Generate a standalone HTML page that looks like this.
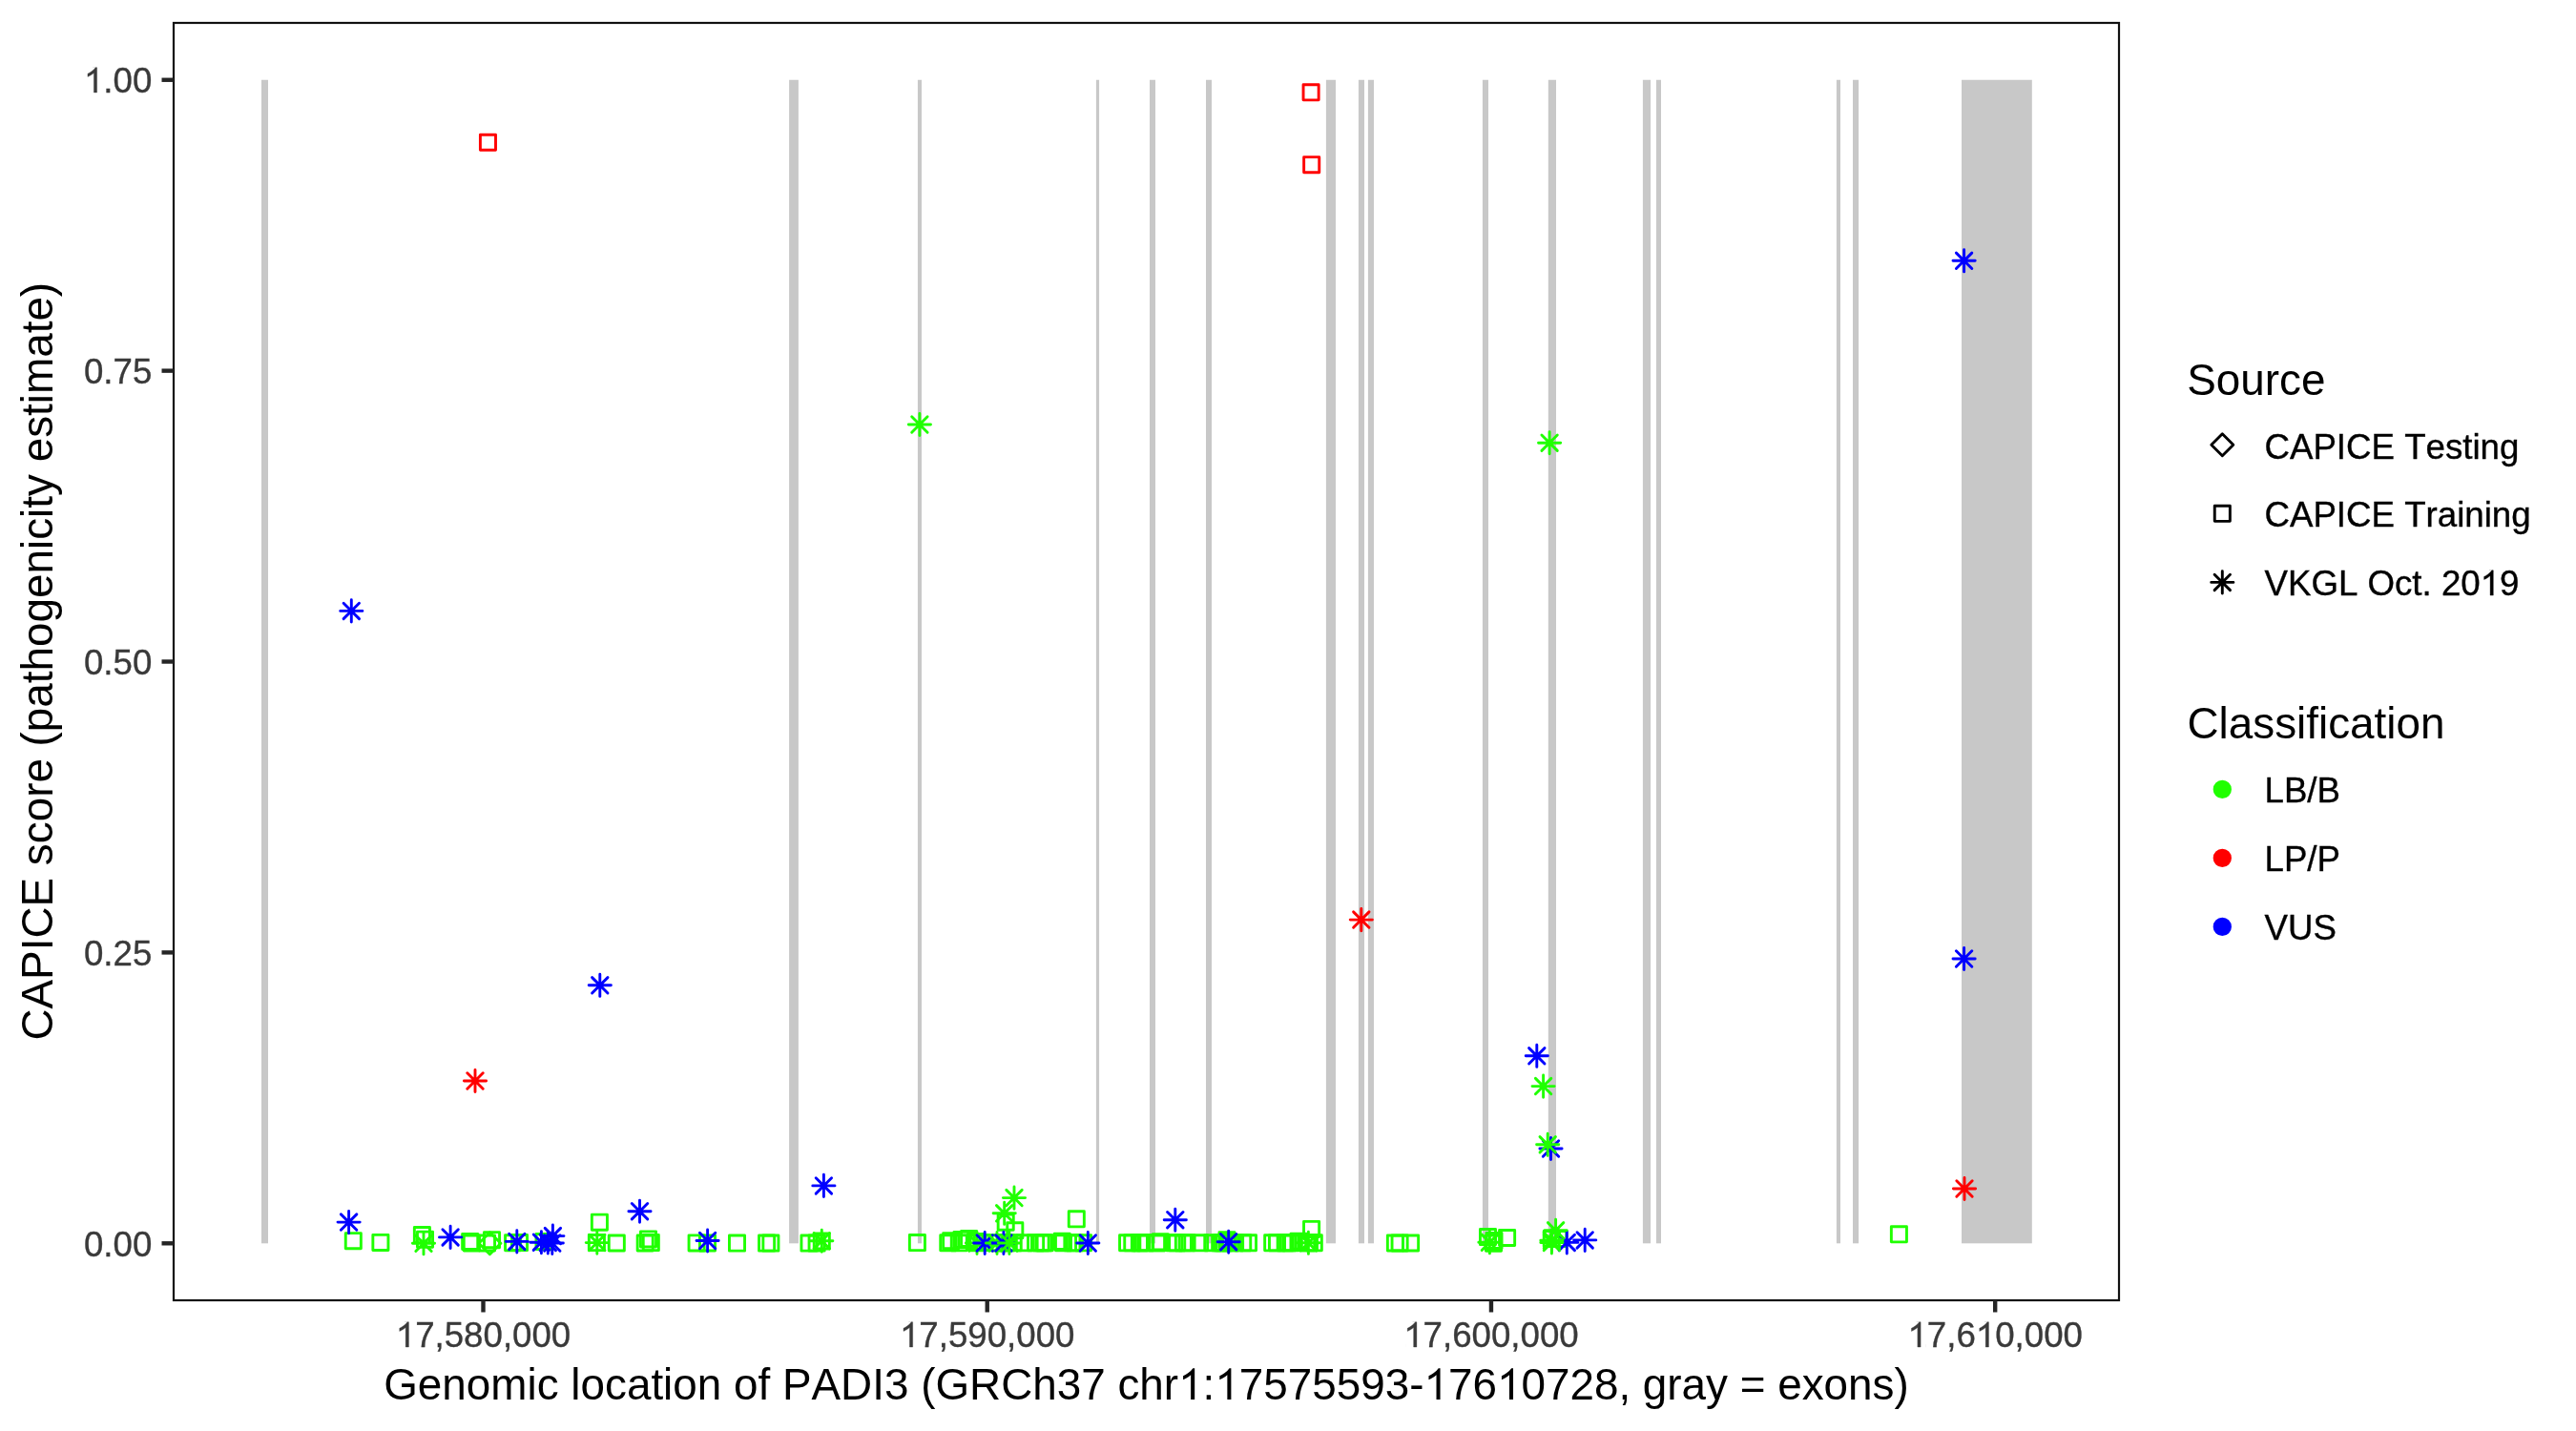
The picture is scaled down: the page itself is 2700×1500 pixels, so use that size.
<!DOCTYPE html><html><head><meta charset="utf-8"><style>html,body{margin:0;padding:0;background:#fff;overflow:hidden}svg{display:block;font-kerning:none;will-change:transform}</style></head><body>
<svg width="2700" height="1500" viewBox="0 0 2700 1500" font-family="'Liberation Sans', sans-serif">
<rect x="0" y="0" width="2700" height="1500" fill="#FFFFFF"/>
<g fill="#C8C8C8">
<rect x="274" y="83.75" width="7.00" height="1219.55"/>
<rect x="827.1" y="83.75" width="9.80" height="1219.55"/>
<rect x="961.9" y="83.75" width="4.10" height="1219.55"/>
<rect x="1148.9" y="83.75" width="3.20" height="1219.55"/>
<rect x="1205" y="83.75" width="6.00" height="1219.55"/>
<rect x="1264" y="83.75" width="6.00" height="1219.55"/>
<rect x="1389.9" y="83.75" width="10.10" height="1219.55"/>
<rect x="1423.9" y="83.75" width="6.10" height="1219.55"/>
<rect x="1433.9" y="83.75" width="6.10" height="1219.55"/>
<rect x="1553.9" y="83.75" width="6.10" height="1219.55"/>
<rect x="1622.8" y="83.75" width="8.20" height="1219.55"/>
<rect x="1721.9" y="83.75" width="8.20" height="1219.55"/>
<rect x="1735.9" y="83.75" width="5.10" height="1219.55"/>
<rect x="1924.9" y="83.75" width="4.10" height="1219.55"/>
<rect x="1942" y="83.75" width="6.10" height="1219.55"/>
<rect x="2056" y="83.75" width="73.80" height="1219.55"/>
</g>
<g fill="none" stroke-width="2.9" stroke-linecap="round" stroke-linejoin="round">
<rect x="362.25" y="1292.65" width="16.10" height="16.10" stroke="#20FF00"/>
<rect x="390.85" y="1294.35" width="16.10" height="16.10" stroke="#20FF00"/>
<rect x="434.35" y="1286.55" width="16.10" height="16.10" stroke="#20FF00"/>
<rect x="437.45" y="1291.15" width="16.10" height="16.10" stroke="#20FF00"/>
<rect x="484.65" y="1293.35" width="16.10" height="16.10" stroke="#20FF00"/>
<rect x="486.25" y="1294.95" width="16.10" height="16.10" stroke="#20FF00"/>
<rect x="502.45" y="1294.95" width="16.10" height="16.10" stroke="#20FF00"/>
<rect x="507.45" y="1291.65" width="16.10" height="16.10" stroke="#20FF00"/>
<rect x="529.55" y="1294.75" width="16.10" height="16.10" stroke="#20FF00"/>
<rect x="536.45" y="1294.55" width="16.10" height="16.10" stroke="#20FF00"/>
<rect x="561.95" y="1293.45" width="16.10" height="16.10" stroke="#20FF00"/>
<rect x="617.35" y="1294.55" width="16.10" height="16.10" stroke="#20FF00"/>
<rect x="620.35" y="1273.15" width="16.10" height="16.10" stroke="#20FF00"/>
<rect x="638.25" y="1294.95" width="16.10" height="16.10" stroke="#20FF00"/>
<rect x="668.15" y="1294.95" width="16.10" height="16.10" stroke="#20FF00"/>
<rect x="671.45" y="1290.85" width="16.10" height="16.10" stroke="#20FF00"/>
<rect x="674.25" y="1294.55" width="16.10" height="16.10" stroke="#20FF00"/>
<rect x="722.05" y="1294.85" width="16.10" height="16.10" stroke="#20FF00"/>
<rect x="733.45" y="1294.95" width="16.10" height="16.10" stroke="#20FF00"/>
<rect x="764.45" y="1295.05" width="16.10" height="16.10" stroke="#20FF00"/>
<rect x="795.55" y="1295.05" width="16.10" height="16.10" stroke="#20FF00"/>
<rect x="799.85" y="1295.05" width="16.10" height="16.10" stroke="#20FF00"/>
<rect x="839.95" y="1295.05" width="16.10" height="16.10" stroke="#20FF00"/>
<rect x="848.05" y="1295.05" width="16.10" height="16.10" stroke="#20FF00"/>
<rect x="853.25" y="1292.95" width="16.10" height="16.10" stroke="#20FF00"/>
<rect x="953.35" y="1294.55" width="16.10" height="16.10" stroke="#20FF00"/>
<rect x="985.75" y="1294.75" width="16.10" height="16.10" stroke="#20FF00"/>
<rect x="988.65" y="1292.65" width="16.10" height="16.10" stroke="#20FF00"/>
<rect x="997.25" y="1294.75" width="16.10" height="16.10" stroke="#20FF00"/>
<rect x="999.95" y="1291.35" width="16.10" height="16.10" stroke="#20FF00"/>
<rect x="1007.55" y="1290.45" width="16.10" height="16.10" stroke="#20FF00"/>
<rect x="1017.05" y="1294.75" width="16.10" height="16.10" stroke="#20FF00"/>
<rect x="1037.05" y="1294.75" width="16.10" height="16.10" stroke="#20FF00"/>
<rect x="1039.65" y="1294.75" width="16.10" height="16.10" stroke="#20FF00"/>
<rect x="1046.85" y="1294.75" width="16.10" height="16.10" stroke="#20FF00"/>
<rect x="1054.15" y="1294.75" width="16.10" height="16.10" stroke="#20FF00"/>
<rect x="1065.35" y="1294.75" width="16.10" height="16.10" stroke="#20FF00"/>
<rect x="1077.55" y="1294.75" width="16.10" height="16.10" stroke="#20FF00"/>
<rect x="1083.05" y="1294.75" width="16.10" height="16.10" stroke="#20FF00"/>
<rect x="1085.85" y="1294.75" width="16.10" height="16.10" stroke="#20FF00"/>
<rect x="1087.15" y="1294.75" width="16.10" height="16.10" stroke="#20FF00"/>
<rect x="1105.15" y="1293.25" width="16.10" height="16.10" stroke="#20FF00"/>
<rect x="1106.45" y="1294.75" width="16.10" height="16.10" stroke="#20FF00"/>
<rect x="1115.85" y="1294.75" width="16.10" height="16.10" stroke="#20FF00"/>
<rect x="1118.45" y="1294.75" width="16.10" height="16.10" stroke="#20FF00"/>
<rect x="1127.55" y="1294.75" width="16.10" height="16.10" stroke="#20FF00"/>
<rect x="1173.55" y="1294.75" width="16.10" height="16.10" stroke="#20FF00"/>
<rect x="1178.75" y="1294.75" width="16.10" height="16.10" stroke="#20FF00"/>
<rect x="1186.35" y="1294.75" width="16.10" height="16.10" stroke="#20FF00"/>
<rect x="1188.35" y="1294.75" width="16.10" height="16.10" stroke="#20FF00"/>
<rect x="1192.55" y="1294.75" width="16.10" height="16.10" stroke="#20FF00"/>
<rect x="1204.75" y="1294.75" width="16.10" height="16.10" stroke="#20FF00"/>
<rect x="1204.75" y="1294.75" width="16.10" height="16.10" stroke="#20FF00"/>
<rect x="1208.25" y="1293.75" width="16.10" height="16.10" stroke="#20FF00"/>
<rect x="1222.75" y="1294.75" width="16.10" height="16.10" stroke="#20FF00"/>
<rect x="1225.65" y="1294.75" width="16.10" height="16.10" stroke="#20FF00"/>
<rect x="1232.35" y="1294.75" width="16.10" height="16.10" stroke="#20FF00"/>
<rect x="1236.05" y="1294.75" width="16.10" height="16.10" stroke="#20FF00"/>
<rect x="1249.55" y="1294.75" width="16.10" height="16.10" stroke="#20FF00"/>
<rect x="1262.75" y="1294.75" width="16.10" height="16.10" stroke="#20FF00"/>
<rect x="1270.65" y="1294.75" width="16.10" height="16.10" stroke="#20FF00"/>
<rect x="1272.95" y="1294.75" width="16.10" height="16.10" stroke="#20FF00"/>
<rect x="1274.95" y="1294.75" width="16.10" height="16.10" stroke="#20FF00"/>
<rect x="1277.95" y="1291.75" width="16.10" height="16.10" stroke="#20FF00"/>
<rect x="1281.45" y="1294.75" width="16.10" height="16.10" stroke="#20FF00"/>
<rect x="1286.55" y="1294.75" width="16.10" height="16.10" stroke="#20FF00"/>
<rect x="1294.65" y="1294.75" width="16.10" height="16.10" stroke="#20FF00"/>
<rect x="1300.45" y="1294.75" width="16.10" height="16.10" stroke="#20FF00"/>
<rect x="1325.65" y="1294.75" width="16.10" height="16.10" stroke="#20FF00"/>
<rect x="1330.45" y="1294.75" width="16.10" height="16.10" stroke="#20FF00"/>
<rect x="1339.15" y="1294.75" width="16.10" height="16.10" stroke="#20FF00"/>
<rect x="1341.75" y="1294.75" width="16.10" height="16.10" stroke="#20FF00"/>
<rect x="1344.65" y="1294.75" width="16.10" height="16.10" stroke="#20FF00"/>
<rect x="1352.95" y="1293.15" width="16.10" height="16.10" stroke="#20FF00"/>
<rect x="1361.65" y="1294.75" width="16.10" height="16.10" stroke="#20FF00"/>
<rect x="1364.35" y="1294.75" width="16.10" height="16.10" stroke="#20FF00"/>
<rect x="1369.25" y="1294.75" width="16.10" height="16.10" stroke="#20FF00"/>
<rect x="1014.45" y="1293.45" width="16.10" height="16.10" stroke="#20FF00"/>
<rect x="1020.95" y="1294.45" width="16.10" height="16.10" stroke="#20FF00"/>
<rect x="1046.15" y="1273.15" width="16.10" height="16.10" stroke="#20FF00"/>
<rect x="1055.75" y="1281.75" width="16.10" height="16.10" stroke="#20FF00"/>
<rect x="1120.25" y="1269.75" width="16.10" height="16.10" stroke="#20FF00"/>
<rect x="1366.55" y="1280.35" width="16.10" height="16.10" stroke="#20FF00"/>
<rect x="1454.35" y="1294.95" width="16.10" height="16.10" stroke="#20FF00"/>
<rect x="1459.05" y="1294.95" width="16.10" height="16.10" stroke="#20FF00"/>
<rect x="1470.55" y="1294.95" width="16.10" height="16.10" stroke="#20FF00"/>
<rect x="1551.45" y="1288.55" width="16.10" height="16.10" stroke="#20FF00"/>
<rect x="1557.45" y="1295.15" width="16.10" height="16.10" stroke="#20FF00"/>
<rect x="1571.55" y="1289.45" width="16.10" height="16.10" stroke="#20FF00"/>
<rect x="1557.95" y="1292.45" width="16.10" height="16.10" stroke="#20FF00"/>
<rect x="1618.25" y="1290.45" width="16.10" height="16.10" stroke="#20FF00"/>
<rect x="1625.75" y="1290.45" width="16.10" height="16.10" stroke="#20FF00"/>
<rect x="1982.35" y="1285.75" width="16.10" height="16.10" stroke="#20FF00"/>
<rect x="503.40" y="141.20" width="16.10" height="16.10" stroke="#FF0000"/>
<rect x="1366.05" y="88.75" width="16.10" height="16.10" stroke="#FF0000"/>
<rect x="1366.65" y="164.65" width="16.10" height="16.10" stroke="#FF0000"/>
<path d="M513.40 1291.80L524.90 1303.30L513.40 1314.80L501.90 1303.30Z" stroke="#20FF00"/>
<path d="M357.40 1272.90L373.80 1289.30M357.40 1289.30L373.80 1272.90M354.00 1281.10L377.20 1281.10M365.60 1269.50L365.60 1292.70" stroke="#0000FF"/>
<path d="M463.90 1288.70L480.30 1305.10M463.90 1305.10L480.30 1288.70M460.50 1296.90L483.70 1296.90M472.10 1285.30L472.10 1308.50" stroke="#0000FF"/>
<path d="M533.60 1293.20L550.00 1309.60M533.60 1309.60L550.00 1293.20M530.20 1301.40L553.40 1301.40M541.80 1289.80L541.80 1313.00" stroke="#0000FF"/>
<path d="M435.80 1295.10L452.20 1311.50M435.80 1311.50L452.20 1295.10M432.40 1303.30L455.60 1303.30M444.00 1291.70L444.00 1314.90" stroke="#20FF00"/>
<path d="M559.20 1294.00L575.60 1310.40M559.20 1310.40L575.60 1294.00M555.80 1302.20L579.00 1302.20M567.40 1290.60L567.40 1313.80" stroke="#0000FF"/>
<path d="M566.10 1294.30L582.50 1310.70M566.10 1310.70L582.50 1294.30M562.70 1302.50L585.90 1302.50M574.30 1290.90L574.30 1314.10" stroke="#0000FF"/>
<path d="M571.20 1287.40L587.60 1303.80M571.20 1303.80L587.60 1287.40M567.80 1295.60L591.00 1295.60M579.40 1284.00L579.40 1307.20" stroke="#0000FF"/>
<path d="M570.60 1294.80L587.00 1311.20M570.60 1311.20L587.00 1294.80M567.20 1303.00L590.40 1303.00M578.80 1291.40L578.80 1314.60" stroke="#0000FF"/>
<path d="M617.60 1294.40L634.00 1310.80M617.60 1310.80L634.00 1294.40M614.20 1302.60L637.40 1302.60M625.80 1291.00L625.80 1314.20" stroke="#20FF00"/>
<path d="M662.30 1261.50L678.70 1277.90M662.30 1277.90L678.70 1261.50M658.90 1269.70L682.10 1269.70M670.50 1258.10L670.50 1281.30" stroke="#0000FF"/>
<path d="M733.40 1292.30L749.80 1308.70M733.40 1308.70L749.80 1292.30M730.00 1300.50L753.20 1300.50M741.60 1288.90L741.60 1312.10" stroke="#0000FF"/>
<path d="M853.10 1292.50L869.50 1308.90M853.10 1308.90L869.50 1292.50M849.70 1300.70L872.90 1300.70M861.30 1289.10L861.30 1312.30" stroke="#20FF00"/>
<path d="M855.20 1234.70L871.60 1251.10M855.20 1251.10L871.60 1234.70M851.80 1242.90L875.00 1242.90M863.40 1231.30L863.40 1254.50" stroke="#0000FF"/>
<path d="M1015.80 1294.80L1032.20 1311.20M1015.80 1311.20L1032.20 1294.80M1012.40 1303.00L1035.60 1303.00M1024.00 1291.40L1024.00 1314.60" stroke="#20FF00"/>
<path d="M1024.00 1294.80L1040.40 1311.20M1024.00 1311.20L1040.40 1294.80M1020.60 1303.00L1043.80 1303.00M1032.20 1291.40L1032.20 1314.60" stroke="#0000FF"/>
<path d="M1036.80 1294.80L1053.20 1311.20M1036.80 1311.20L1053.20 1294.80M1033.40 1303.00L1056.60 1303.00M1045.00 1291.40L1045.00 1314.60" stroke="#20FF00"/>
<path d="M1043.70 1294.80L1060.10 1311.20M1043.70 1311.20L1060.10 1294.80M1040.30 1303.00L1063.50 1303.00M1051.90 1291.40L1051.90 1314.60" stroke="#0000FF"/>
<path d="M1049.70 1294.80L1066.10 1311.20M1049.70 1311.20L1066.10 1294.80M1046.30 1303.00L1069.50 1303.00M1057.90 1291.40L1057.90 1314.60" stroke="#20FF00"/>
<path d="M1054.80 1247.40L1071.20 1263.80M1054.80 1263.80L1071.20 1247.40M1051.40 1255.60L1074.60 1255.60M1063.00 1244.00L1063.00 1267.20" stroke="#20FF00"/>
<path d="M1044.50 1263.60L1060.90 1280.00M1044.50 1280.00L1060.90 1263.60M1041.10 1271.80L1064.30 1271.80M1052.70 1260.20L1052.70 1283.40" stroke="#20FF00"/>
<path d="M1132.10 1294.80L1148.50 1311.20M1132.10 1311.20L1148.50 1294.80M1128.70 1303.00L1151.90 1303.00M1140.30 1291.40L1140.30 1314.60" stroke="#0000FF"/>
<path d="M1223.60 1270.50L1240.00 1286.90M1223.60 1286.90L1240.00 1270.50M1220.20 1278.70L1243.40 1278.70M1231.80 1267.10L1231.80 1290.30" stroke="#0000FF"/>
<path d="M1279.50 1293.50L1295.90 1309.90M1279.50 1309.90L1295.90 1293.50M1276.10 1301.70L1299.30 1301.70M1287.70 1290.10L1287.70 1313.30" stroke="#0000FF"/>
<path d="M1363.20 1294.60L1379.60 1311.00M1363.20 1311.00L1379.60 1294.60M1359.80 1302.80L1383.00 1302.80M1371.40 1291.20L1371.40 1314.40" stroke="#20FF00"/>
<path d="M1553.20 1294.10L1569.60 1310.50M1553.20 1310.50L1569.60 1294.10M1549.80 1302.30L1573.00 1302.30M1561.40 1290.70L1561.40 1313.90" stroke="#20FF00"/>
<path d="M1634.10 1294.20L1650.50 1310.60M1634.10 1310.60L1650.50 1294.20M1630.70 1302.40L1653.90 1302.40M1642.30 1290.80L1642.30 1314.00" stroke="#0000FF"/>
<path d="M1653.00 1291.70L1669.40 1308.10M1653.00 1308.10L1669.40 1291.70M1649.60 1299.90L1672.80 1299.90M1661.20 1288.30L1661.20 1311.50" stroke="#0000FF"/>
<path d="M1618.20 1294.30L1634.60 1310.70M1618.20 1310.70L1634.60 1294.30M1614.80 1302.50L1638.00 1302.50M1626.40 1290.90L1626.40 1314.10" stroke="#20FF00"/>
<path d="M1618.20 1292.00L1634.60 1308.40M1618.20 1308.40L1634.60 1292.00M1614.80 1300.20L1638.00 1300.20M1626.40 1288.60L1626.40 1311.80" stroke="#20FF00"/>
<path d="M1622.40 1281.60L1638.80 1298.00M1622.40 1298.00L1638.80 1281.60M1619.00 1289.80L1642.20 1289.80M1630.60 1278.20L1630.60 1301.40" stroke="#20FF00"/>
<path d="M1602.60 1098.60L1619.00 1115.00M1602.60 1115.00L1619.00 1098.60M1599.20 1106.80L1622.40 1106.80M1610.80 1095.20L1610.80 1118.40" stroke="#0000FF"/>
<path d="M1617.30 1195.80L1633.70 1212.20M1617.30 1212.20L1633.70 1195.80M1613.90 1204.00L1637.10 1204.00M1625.50 1192.40L1625.50 1215.60" stroke="#0000FF"/>
<path d="M1609.40 1130.40L1625.80 1146.80M1609.40 1146.80L1625.80 1130.40M1606.00 1138.60L1629.20 1138.60M1617.60 1127.00L1617.60 1150.20" stroke="#20FF00"/>
<path d="M1614.00 1191.60L1630.40 1208.00M1614.00 1208.00L1630.40 1191.60M1610.60 1199.80L1633.80 1199.80M1622.20 1188.20L1622.20 1211.40" stroke="#20FF00"/>
<path d="M2050.80 1237.80L2067.20 1254.20M2050.80 1254.20L2067.20 1237.80M2047.40 1246.00L2070.60 1246.00M2059.00 1234.40L2059.00 1257.60" stroke="#FF0000"/>
<path d="M2050.40 265.10L2066.80 281.50M2050.40 281.50L2066.80 265.10M2047.00 273.30L2070.20 273.30M2058.60 261.70L2058.60 284.90" stroke="#0000FF"/>
<path d="M2050.40 996.80L2066.80 1013.20M2050.40 1013.20L2066.80 996.80M2047.00 1005.00L2070.20 1005.00M2058.60 993.40L2058.60 1016.60" stroke="#0000FF"/>
<path d="M360.10 632.20L376.50 648.60M360.10 648.60L376.50 632.20M356.70 640.40L379.90 640.40M368.30 628.80L368.30 652.00" stroke="#0000FF"/>
<path d="M620.60 1024.60L637.00 1041.00M620.60 1041.00L637.00 1024.60M617.20 1032.80L640.40 1032.80M628.80 1021.20L628.80 1044.40" stroke="#0000FF"/>
<path d="M489.80 1124.80L506.20 1141.20M489.80 1141.20L506.20 1124.80M486.40 1133.00L509.60 1133.00M498.00 1121.40L498.00 1144.60" stroke="#FF0000"/>
<path d="M1418.60 955.90L1435.00 972.30M1418.60 972.30L1435.00 955.90M1415.20 964.10L1438.40 964.10M1426.80 952.50L1426.80 975.70" stroke="#FF0000"/>
<path d="M955.70 436.80L972.10 453.20M955.70 453.20L972.10 436.80M952.30 445.00L975.50 445.00M963.90 433.40L963.90 456.60" stroke="#20FF00"/>
<path d="M1615.90 456.00L1632.30 472.40M1615.90 472.40L1632.30 456.00M1612.50 464.20L1635.70 464.20M1624.10 452.60L1624.10 475.80" stroke="#20FF00"/>
</g>
<rect x="182" y="24" width="2039" height="1339" fill="none" stroke="#111111" stroke-width="2.2"/>
<g stroke="#252525" stroke-width="4.4">
<line x1="169.5" y1="1303.30" x2="182" y2="1303.30"/>
<line x1="169.5" y1="998.41" x2="182" y2="998.41"/>
<line x1="169.5" y1="693.52" x2="182" y2="693.52"/>
<line x1="169.5" y1="388.64" x2="182" y2="388.64"/>
<line x1="169.5" y1="83.75" x2="182" y2="83.75"/>
<line x1="506.50" y1="1363" x2="506.50" y2="1375.5"/>
<line x1="1034.73" y1="1363" x2="1034.73" y2="1375.5"/>
<line x1="1562.96" y1="1363" x2="1562.96" y2="1375.5"/>
<line x1="2091.19" y1="1363" x2="2091.19" y2="1375.5"/>
</g>
<g fill="#3A3A3A" stroke="#3A3A3A" stroke-width="0.35" font-size="36.67">
<text x="159.3" y="1316.55" text-anchor="end">0.00</text>
<text x="159.3" y="1011.66" text-anchor="end">0.25</text>
<text x="159.3" y="706.77" text-anchor="end">0.50</text>
<text x="159.3" y="401.89" text-anchor="end">0.75</text>
<text x="159.3" y="97.00" text-anchor="end">1.00</text>
<text x="506.50" y="1412" text-anchor="middle">17,580,000</text>
<text x="1034.73" y="1412" text-anchor="middle">17,590,000</text>
<text x="1562.96" y="1412" text-anchor="middle">17,600,000</text>
<text x="2091.19" y="1412" text-anchor="middle">17,610,000</text>
</g>
<g fill="#000000" font-size="45.83">
<text x="1201.5" y="1467" text-anchor="middle" font-size="45.83">Genomic location of PADI3 (GRCh37 chr1:17575593-17610728, gray = exons)</text>
<text transform="translate(55 693.2) rotate(-90)" text-anchor="middle" font-size="45.83">CAPICE score (pathogenicity estimate)</text>
<text x="2292.3" y="413.5">Source</text>
<text x="2292.5" y="773.8">Classification</text>
</g>
<g fill="none" stroke="#000000" stroke-width="2.9" stroke-linecap="round" stroke-linejoin="round">
<path d="M2329.30 454.70L2340.80 466.20L2329.30 477.70L2317.80 466.20Z" stroke="#000000"/>
<rect x="2321.25" y="530.25" width="16.10" height="16.10" stroke="#000000"/>
<path d="M2321.10 602.20L2337.50 618.60M2321.10 618.60L2337.50 602.20M2317.70 610.40L2340.90 610.40M2329.30 598.80L2329.30 622.00" stroke="#000000"/>
</g>
<circle cx="2329.3" cy="827.4" r="8.2" fill="#20FF00" stroke="#20FF00" stroke-width="2.9"/>
<circle cx="2329.3" cy="899.4" r="8.2" fill="#FF0000" stroke="#FF0000" stroke-width="2.9"/>
<circle cx="2329.3" cy="971.4" r="8.2" fill="#0000FF" stroke="#0000FF" stroke-width="2.9"/>
<g fill="#000000" stroke="#000000" stroke-width="0.35" font-size="36.67">
<text x="2373.5" y="481.2">CAPICE Testing</text>
<text x="2373.5" y="551.8">CAPICE Training</text>
<text x="2373.5" y="624.1">VKGL Oct. 2019</text>
<text x="2373.5" y="840.9">LB/B</text>
<text x="2373.5" y="912.7">LP/P</text>
<text x="2373.5" y="984.5">VUS</text>
</g>
<g fill="#FFFFFF">
<rect x="89.86" y="70.57" width="17.49" height="28.43"/>
<rect x="416.67" y="1385.57" width="17.49" height="28.43"/>
<rect x="944.90" y="1385.57" width="17.49" height="28.43"/>
<rect x="1473.13" y="1385.57" width="17.49" height="28.43"/>
<rect x="2001.36" y="1385.57" width="17.49" height="28.43"/>
<rect x="2072.69" y="1385.57" width="17.49" height="28.43"/>
<rect x="1237.63" y="1434.27" width="21.56" height="34.73"/>
<rect x="1275.85" y="1434.27" width="21.56" height="34.73"/>
<rect x="1495.01" y="1434.27" width="21.56" height="34.73"/>
<rect x="1571.48" y="1434.27" width="21.56" height="34.73"/>
<rect x="2601.55" y="597.67" width="17.49" height="28.43"/>
</g>
<path d="M101.62 97.00L98.40 97.00L98.40 76.46Q96.91 77.84 94.76 79.06Q93.15 79.95 91.95 80.40L91.95 77.29Q93.86 76.41 96.05 74.80Q98.77 72.83 100.17 70.75L101.62 70.75Z" fill="#3A3A3A" stroke="#3A3A3A" stroke-width="0.35" stroke-linejoin="round"/>
<path d="M428.43 1412.00L425.20 1412.00L425.20 1391.46Q423.72 1392.84 421.57 1394.06Q419.96 1394.95 418.76 1395.40L418.76 1392.29Q420.67 1391.41 422.86 1389.80Q425.58 1387.83 426.98 1385.75L428.43 1385.75Z" fill="#3A3A3A" stroke="#3A3A3A" stroke-width="0.35" stroke-linejoin="round"/>
<path d="M956.66 1412.00L953.43 1412.00L953.43 1391.46Q951.95 1392.84 949.80 1394.06Q948.19 1394.95 946.99 1395.40L946.99 1392.29Q948.90 1391.41 951.09 1389.80Q953.81 1387.83 955.21 1385.75L956.66 1385.75Z" fill="#3A3A3A" stroke="#3A3A3A" stroke-width="0.35" stroke-linejoin="round"/>
<path d="M1484.89 1412.00L1481.66 1412.00L1481.66 1391.46Q1480.18 1392.84 1478.03 1394.06Q1476.42 1394.95 1475.22 1395.40L1475.22 1392.29Q1477.13 1391.41 1479.32 1389.80Q1482.04 1387.83 1483.44 1385.75L1484.89 1385.75Z" fill="#3A3A3A" stroke="#3A3A3A" stroke-width="0.35" stroke-linejoin="round"/>
<path d="M2013.12 1412.00L2009.89 1412.00L2009.89 1391.46Q2008.41 1392.84 2006.26 1394.06Q2004.65 1394.95 2003.45 1395.40L2003.45 1392.29Q2005.36 1391.41 2007.55 1389.80Q2010.27 1387.83 2011.67 1385.75L2013.12 1385.75Z" fill="#3A3A3A" stroke="#3A3A3A" stroke-width="0.35" stroke-linejoin="round"/>
<path d="M2084.45 1412.00L2081.22 1412.00L2081.22 1391.46Q2079.74 1392.84 2077.59 1394.06Q2075.98 1394.95 2074.78 1395.40L2074.78 1392.29Q2076.69 1391.41 2078.88 1389.80Q2081.60 1387.83 2083.00 1385.75L2084.45 1385.75Z" fill="#3A3A3A" stroke="#3A3A3A" stroke-width="0.35" stroke-linejoin="round"/>
<path d="M1252.18 1467.00L1248.15 1467.00L1248.15 1441.33Q1246.29 1443.06 1243.61 1444.58Q1241.59 1445.70 1240.09 1446.26L1240.09 1442.36Q1242.49 1441.27 1245.22 1439.25Q1248.62 1436.79 1250.36 1434.19L1252.18 1434.19Z" fill="#000000"/>
<path d="M1290.39 1467.00L1286.37 1467.00L1286.37 1441.33Q1284.51 1443.06 1281.82 1444.58Q1279.81 1445.70 1278.31 1446.26L1278.31 1442.36Q1280.71 1441.27 1283.44 1439.25Q1286.84 1436.79 1288.58 1434.19L1290.39 1434.19Z" fill="#000000"/>
<path d="M1509.55 1467.00L1505.52 1467.00L1505.52 1441.33Q1503.67 1443.06 1500.98 1444.58Q1498.97 1445.70 1497.47 1446.26L1497.47 1442.36Q1499.86 1441.27 1502.59 1439.25Q1505.99 1436.79 1507.74 1434.19L1509.55 1434.19Z" fill="#000000"/>
<path d="M1586.02 1467.00L1581.99 1467.00L1581.99 1441.33Q1580.13 1443.06 1577.45 1444.58Q1575.43 1445.70 1573.94 1446.26L1573.94 1442.36Q1576.33 1441.27 1579.06 1439.25Q1582.46 1436.79 1584.21 1434.19L1586.02 1434.19Z" fill="#000000"/>
<path d="M2613.30 624.10L2610.08 624.10L2610.08 603.56Q2608.59 604.94 2606.44 606.16Q2604.83 607.05 2603.63 607.50L2603.63 604.39Q2605.55 603.51 2607.73 601.90Q2610.46 599.93 2611.85 597.85L2613.30 597.85Z" fill="#000000" stroke="#000000" stroke-width="0.35" stroke-linejoin="round"/>
</svg></body></html>
